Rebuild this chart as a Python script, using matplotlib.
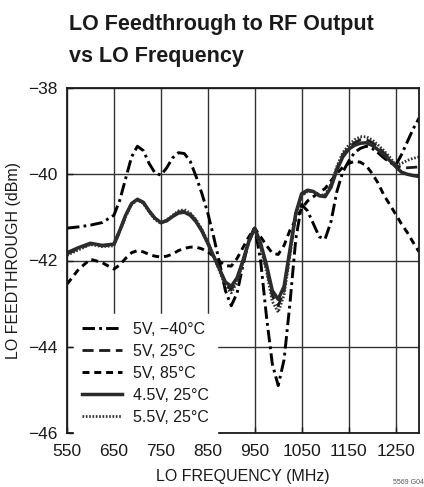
import matplotlib
matplotlib.use("Agg")
import matplotlib.pyplot as plt

# Data (LO frequency in MHz, feedthrough in dBm)
freq = [550, 575, 600, 625, 650, 662.5, 675, 687.5, 700, 712.5, 725, 737.5, 750,
        762.5, 775, 787.5, 800, 812.5, 825, 837.5, 850, 862.5, 875, 887.5, 900,
        912.5, 925, 937.5, 950, 962.5, 975, 987.5, 1000, 1012.5, 1025, 1037.5, 1050,
        1062.5, 1075, 1087.5, 1100, 1112.5, 1125, 1137.5, 1150, 1162.5, 1175, 1187.5,
        1200, 1212.5, 1225, 1237.5, 1250, 1262.5, 1275, 1287.5, 1300]

v5_m40 = [-41.25, -41.22, -41.18, -41.12, -40.95, -40.6, -40.1, -39.6, -39.35, -39.45,
          -39.75, -39.97, -40.02, -39.85, -39.62, -39.5, -39.52, -39.7, -40.05, -40.45,
          -40.9, -41.45, -42.05, -42.7, -43.05, -42.75, -42.1, -41.55, -41.22, -42.0,
          -43.3, -44.4, -44.9, -44.3, -43.0, -41.5, -40.7, -40.85, -41.15, -41.45,
          -41.5, -41.1, -40.4, -39.95, -39.7, -39.5, -39.4, -39.35, -39.4, -39.5,
          -39.62, -39.72, -39.8, -39.55, -39.25, -38.95, -38.7]

v5_25 = [-41.85, -41.72, -41.62, -41.66, -41.64, -41.31, -40.96, -40.69, -40.59, -40.66,
         -40.86, -41.03, -41.13, -41.07, -40.96, -40.88, -40.85, -40.92, -41.07, -41.3,
         -41.58, -41.9, -42.22, -42.55, -42.68, -42.45, -42.02, -41.56, -41.26, -41.65,
         -42.18, -42.82, -43.05, -42.7, -41.82, -40.92, -40.48, -40.38, -40.4, -40.49,
         -40.5, -40.26, -39.86, -39.55, -39.38, -39.27, -39.2, -39.2, -39.26, -39.37,
         -39.5, -39.64, -39.8, -39.84, -39.85, -39.84, -39.83]

v5_85 = [-42.55, -42.2, -41.97, -42.05, -42.2, -42.1, -41.95, -41.82, -41.77, -41.8,
         -41.86, -41.9, -41.92, -41.9, -41.85, -41.77, -41.72, -41.69, -41.69, -41.73,
         -41.8, -41.9, -42.02, -42.12, -42.13, -41.95, -41.7, -41.45, -41.25, -41.45,
         -41.65, -41.83, -41.86, -41.65, -41.3, -41.05, -40.8, -40.62, -40.52, -40.42,
         -40.33, -40.15, -39.98, -39.84, -39.75, -39.7, -39.72, -39.8, -39.98, -40.2,
         -40.48, -40.7, -40.92, -41.15, -41.35, -41.58, -41.8]

v45_25 = [-41.82, -41.7, -41.6, -41.65, -41.62, -41.3, -40.95, -40.68, -40.58, -40.65,
          -40.85, -41.02, -41.12, -41.08, -40.98, -40.9, -40.88, -40.95, -41.1, -41.32,
          -41.6, -41.9, -42.2, -42.5, -42.6, -42.4, -42.0, -41.55, -41.25, -41.6,
          -42.1, -42.7, -42.9, -42.6, -41.75, -40.9, -40.45, -40.37, -40.4, -40.5,
          -40.52, -40.3, -39.9, -39.6, -39.42, -39.33, -39.28, -39.27, -39.33, -39.43,
          -39.55, -39.68, -39.82, -39.95, -40.0, -40.03, -40.05]

v55_25 = [-41.88, -41.75, -41.63, -41.68, -41.66, -41.33, -40.98, -40.7, -40.6, -40.67,
          -40.88, -41.05, -41.14, -41.06, -40.95, -40.85, -40.82, -40.9, -41.05, -41.28,
          -41.56, -41.9, -42.25, -42.6, -42.75, -42.5, -42.05, -41.58, -41.28, -41.7,
          -42.25, -42.95, -43.2, -42.8, -41.9, -40.95, -40.5, -40.4, -40.4, -40.48,
          -40.48, -40.22, -39.82, -39.5, -39.33, -39.2, -39.13, -39.13, -39.2, -39.32,
          -39.45, -39.6, -39.78, -39.75, -39.68, -39.63, -39.6]

labels = ["5V, \u221240\u00b0C", "5V, 25\u00b0C", "5V, 85\u00b0C", "4.5V, 25\u00b0C",
          "5.5V, 25\u00b0C"]
x_ticks = [550, 650, 750, 850, 950, 1050, 1150, 1250]
y_ticks = [-46, -44, -42, -40, -38]

plt.rcParams["font.family"] = ["Liberation Sans", "DejaVu Sans"]
plt.rcParams["lines.scale_dashes"] = False

fig = plt.figure(figsize=(4.24, 4.87), dpi=100)
ax = fig.add_axes([67 / 424, 1 - 433 / 487, 352 / 424, 345 / 487])

ink = "#1a1a1a"
ax.plot(freq, v5_m40, color="black", lw=2.1, dashes=(9, 3, 2, 3), label=labels[0])
ax.plot(freq, v5_25, color=ink, lw=2.0, dashes=(8, 4), label=labels[1])
ax.plot(freq, v5_85, color="black", lw=2.1, dashes=(5, 3.5), label=labels[2])
ax.plot(freq, v45_25, color="#2a2a2a", lw=2.5, label=labels[3])
ax.plot(freq, v55_25, color="#333333", lw=2.0, dashes=(1.2, 1.2), label=labels[4])

ax.set_xlim(550, 1300)
ax.set_ylim(-46, -38)
ax.set_xticks(x_ticks)
ax.set_yticks(y_ticks)
ax.set_xticklabels([str(t) for t in x_ticks])
ax.set_yticklabels(["\u2212" + str(abs(t)) for t in y_ticks])
ax.tick_params(direction="in", length=4, width=1, labelsize=12.5, colors=ink)
ax.tick_params(axis="x", pad=8)
ax.tick_params(axis="y", pad=7)
ax.grid(True, color="#333333", lw=1.0)
ax.set_axisbelow(True)
for s in ax.spines.values():
    s.set_linewidth(1.3)
    s.set_color(ink)

ax.set_xlabel("LO FREQUENCY (MHz)", fontsize=11.5, color=ink, labelpad=7)
ax.set_ylabel("LO FEEDTHROUGH (dBm)", fontsize=11.5, color=ink, labelpad=5)

leg = ax.legend(loc="lower left", bbox_to_anchor=(0.02, 0.0), borderaxespad=0,
                fontsize=11.5, frameon=True, fancybox=False, framealpha=1,
                edgecolor="white", handlelength=2.5, handletextpad=0.7,
                labelspacing=0.44, borderpad=0.5)
for t in leg.get_texts():
    t.set_color(ink)

fig.text(69 / 424, 1 - 30 / 487, "LO Feedthrough to RF Output", fontsize=15.5,
         fontweight="bold", color=ink, va="baseline", ha="left")
fig.text(69 / 424, 1 - 62 / 487, "vs LO Frequency", fontsize=15.5,
         fontweight="bold", color=ink, va="baseline", ha="left")
fig.text(393 / 424, 1 - 484 / 487, "5569 G04", fontsize=5, color="#555555",
         va="baseline", ha="left")

fig.savefig("out.png", dpi=100)
